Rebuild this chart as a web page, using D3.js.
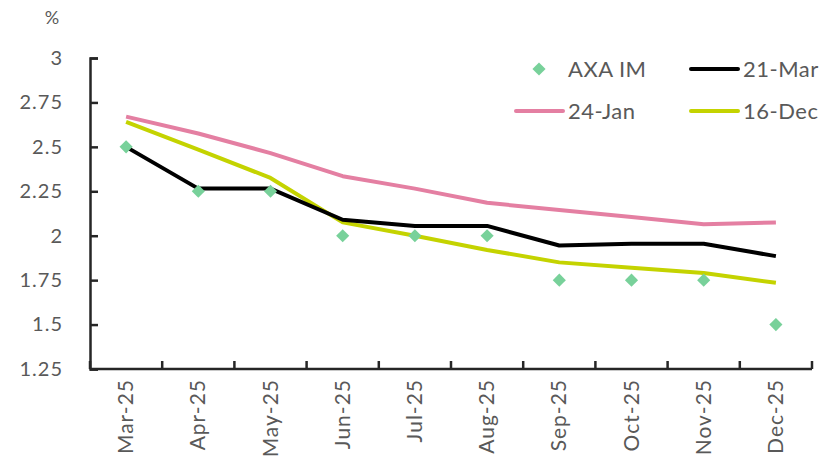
<!DOCTYPE html>
<html>
<head>
<meta charset="utf-8">
<script src="https://cdn.jsdelivr.net/npm/d3@7"></script>
<style>
  body { margin: 0; background: #fff; }
  text { font-family: Lato, "Open Sans", sans-serif; fill: #595959; }
</style>
</head>
<body>
<svg id="chart" width="839" height="464"></svg>
<script>
// categories and series
var months = ["Mar-25", "Apr-25", "May-25", "Jun-25", "Jul-25", "Aug-25", "Sep-25", "Oct-25", "Nov-25", "Dec-25"];
var axaIM  = [2.5, 2.25, 2.25, 2.0, 2.0, 2.0, 1.75, 1.75, 1.75, 1.5];
var mar21  = [2.5, 2.265, 2.265, 2.09, 2.055, 2.055, 1.945, 1.955, 1.955, 1.885];
var jan24  = [2.67, 2.575, 2.465, 2.335, 2.265, 2.185, 2.145, 2.105, 2.065, 2.075];
var dec16  = [2.64, 2.485, 2.325, 2.075, 2.0, 1.92, 1.85, 1.82, 1.79, 1.735];
var yTicks = [1.25, 1.5, 1.75, 2, 2.25, 2.5, 2.75, 3];

var svg = d3.select("#chart"),
    margin = {top: 58, right: 27, bottom: 95, left: 90},
    width = 839 - margin.left - margin.right,
    height = 464 - margin.top - margin.bottom,
    g = svg.append("g").attr("transform", "translate(" + margin.left + "," + margin.top + ")");

var x = d3.scaleBand().domain(months).range([0, width]);
var y = d3.scaleLinear().domain([1.25, 3]).range([height, 0]);
var cx = function(i) { return x(months[i]) + x.bandwidth() / 2; };

var axisColor = "#262626";

// y axis
var yAxis = g.append("g")
    .call(d3.axisLeft(y).tickValues(yTicks).tickFormat(function(d) { return d3.format("")(d); }).tickSize(-8).tickPadding(27));
yAxis.select(".domain").attr("stroke", axisColor).attr("stroke-width", 2.5);
yAxis.selectAll(".tick line").attr("stroke", axisColor).attr("stroke-width", 2.5);
yAxis.selectAll(".tick text").style("font-size", "20px").style("letter-spacing", "1px").attr("fill", "#595959");

// x axis: ticks on category boundaries
var bounds = months.map(function(m) { return x(m); }).concat([width]);
var xAxis = g.append("g").attr("transform", "translate(0," + height + ")");
xAxis.append("line").attr("x1", 0).attr("x2", width).attr("stroke", axisColor).attr("stroke-width", 2.5);
xAxis.selectAll(".btick").data(bounds).enter().append("line")
    .attr("x1", function(d) { return d; }).attr("x2", function(d) { return d; })
    .attr("y1", 0).attr("y2", -8)
    .attr("stroke", axisColor).attr("stroke-width", 2.5);
xAxis.selectAll(".lbl").data(months).enter().append("text")
    .attr("transform", function(d) { return "translate(" + (x(d) + x.bandwidth() / 2 + 7) + ",10) rotate(-90)"; })
    .attr("text-anchor", "end")
    .style("font-size", "21px")
    .style("letter-spacing", "1px")
    .text(function(d) { return d; });

// % label
svg.append("text").attr("x", 52).attr("y", 24).attr("text-anchor", "middle").style("font-size", "18px").text("%");

var line = d3.line()
    .x(function(d, i) { return cx(i); })
    .y(function(d) { return y(d); });

var series = [
  {name: "24-Jan", values: jan24, color: "#e47fa2"},
  {name: "16-Dec", values: dec16, color: "#c4d300"},
  {name: "21-Mar", values: mar21, color: "#000000"}
];

g.selectAll(".series").data(series).enter().append("path")
    .attr("fill", "none")
    .attr("stroke", function(d) { return d.color; })
    .attr("stroke-width", 4)
    .attr("stroke-linejoin", "round")
    .attr("d", function(d) { return line(d.values); });

var diamond = d3.symbol().type(d3.symbolDiamond2).size(110);
g.selectAll(".axa").data(axaIM).enter().append("path")
    .attr("d", diamond)
    .attr("fill", "#78d19a")
    .attr("transform", function(d, i) { return "translate(" + cx(i) + "," + y(d) + ")"; });

// legend
var legend = svg.append("g");
legend.append("path").attr("d", diamond).attr("fill", "#78d19a").attr("transform", "translate(539,69)");
legend.append("text").attr("x", 568).attr("y", 77).style("font-size", "22px").style("letter-spacing", "0.5px").text("AXA IM");
var legLines = [
  {name: "21-Mar", color: "#000000", x: 691, y: 69},
  {name: "24-Jan", color: "#e47fa2", x: 516, y: 111},
  {name: "16-Dec", color: "#c4d300", x: 691, y: 111}
];
legLines.forEach(function(d) {
  legend.append("line").attr("x1", d.x).attr("x2", d.x + 47).attr("y1", d.y).attr("y2", d.y)
      .attr("stroke", d.color).attr("stroke-width", 4).attr("stroke-linecap", "round");
  legend.append("text").attr("x", d.x + 52).attr("y", d.y + 8).style("font-size", "22px").style("letter-spacing", "0.5px").text(d.name);
});
</script>
</body>
</html>
